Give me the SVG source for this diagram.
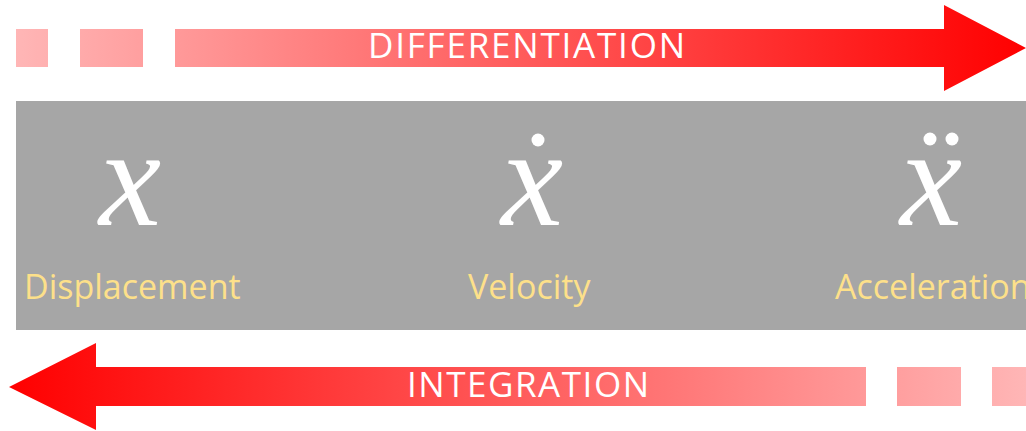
<svg xmlns="http://www.w3.org/2000/svg" width="1026" height="431" viewBox="0 0 1026 431">
<defs>
<linearGradient id="gTop" gradientUnits="userSpaceOnUse" x1="16" y1="0" x2="1026" y2="0">
<stop offset="0" stop-color="#ffb6b6"/><stop offset="1" stop-color="#ff0000"/>
</linearGradient>
<linearGradient id="gBot" gradientUnits="userSpaceOnUse" x1="1026" y1="0" x2="9" y2="0">
<stop offset="0" stop-color="#ffb6b6"/><stop offset="1" stop-color="#ff0000"/>
</linearGradient>
<style>
.lbl{font-family:"Open Sans","Liberation Sans",sans-serif;font-size:34px;fill:#fde08a}
.arr{font-family:"Open Sans","Liberation Sans",sans-serif;font-size:35px;fill:#ffffff}
.var{font-family:"Liberation Serif","DejaVu Serif",serif;font-style:italic;font-size:140px;fill:#ffffff;text-anchor:middle}
.dot{fill:#ffffff}
</style>
</defs>
<g id="connectors">
<g id="differentiation">
<rect x="16" y="29" width="32" height="38" fill="url(#gTop)"/>
<rect x="80" y="29" width="63" height="38" fill="url(#gTop)"/>
<polygon points="175,29 944,29 944,5 1026,48 944,91 944,67 175,67" fill="url(#gTop)"/>
<text class="arr" x="368" y="58" textLength="317" lengthAdjust="spacing">DIFFERENTIATION</text>
</g>
<g id="integration">
<rect x="992" y="367" width="40" height="39" fill="url(#gBot)"/>
<rect x="897" y="367" width="64" height="39" fill="url(#gBot)"/>
<polygon points="866,367 96,367 96,343 9,387 96,430 96,406 866,406" fill="url(#gBot)"/>
<text class="arr" x="407" y="397" textLength="242" lengthAdjust="spacing">INTEGRATION</text>
</g>
</g>
<rect id="panel" x="16" y="101" width="1015" height="229" fill="#a6a6a6"/>
<g id="displacement">
<text class="var" x="130" y="225">x</text>
<text class="lbl" x="24" y="299">Displacement</text>
</g>
<g id="velocity">
<text class="var" x="532" y="225">x</text>
<circle class="dot" cx="538" cy="140" r="6.5"/>
<text class="lbl" x="468" y="299">Velocity</text>
</g>
<g id="acceleration">
<text class="var" x="931" y="225">x</text>
<circle class="dot" cx="930" cy="139" r="6.5"/>
<circle class="dot" cx="952" cy="139" r="6.5"/>
<text class="lbl" x="835" y="299">Acceleration</text>
</g>
</svg>
